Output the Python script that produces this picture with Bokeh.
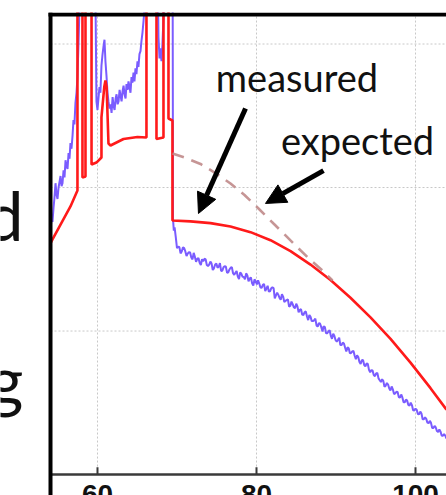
from bokeh.plotting import figure
from bokeh.models import Range1d, Label, Arrow, NormalHead
from bokeh.embed import file_html
from bokeh.resources import INLINE
from bokeh.core.properties import value

# ---------------- data ----------------
x_ticks = [60, 80, 100]
x_tick_labels = ["60", "80", "100"]
y_grid = [1, 2, 3]
side_letters = ["d", "g"]          # ends of the slide text cut off at the left
side_letter_y = [1.812, 0.672]

# red: measured (pulses run off the top of the chart)
red_x = [54.09, 54.34, 55.35, 56.60, 57.48, 57.48, 58.11, 58.11, 58.49, 58.49,
         59.25, 59.25, 59.87, 60.50, 60.50, 60.85, 61.00, 61.15, 61.38, 61.64,
         63.27, 65.03, 66.16, 66.16, 67.42, 67.42, 68.30, 68.30, 68.93, 68.93,
         69.43, 69.43, 71.70, 74.21, 76.73, 79.25, 81.76, 84.28, 86.79, 89.31,
         91.82, 94.34, 96.86, 99.37, 101.89, 103.90]
red_y = [1.610, 1.638, 1.742, 1.868, 1.979, 3.600, 3.600, 2.070, 2.077, 3.600,
         3.600, 2.160, 2.174, 2.209, 2.488, 2.700, 2.746, 2.700, 2.307, 2.293,
         2.338, 2.352, 2.348, 3.600, 3.600, 2.338, 2.348, 3.600, 3.600, 2.481,
         2.467, 1.770, 1.764, 1.752, 1.728, 1.689, 1.633, 1.557, 1.463, 1.355,
         1.232, 1.095, 0.945, 0.780, 0.602, 0.452]

# dashed: expected
exp_x = [69.43, 70.94, 72.96, 74.84, 76.73, 78.49, 80.25, 82.14, 83.65, 85.16,
         86.79, 88.30, 89.56]
exp_y = [2.237, 2.209, 2.164, 2.101, 2.028, 1.948, 1.854, 1.749, 1.666, 1.582,
         1.495, 1.422, 1.352]

# purple: measured signal (noisy)
pur_x = [54.12, 54.25, 54.34, 54.47, 54.59, 54.72, 54.85, 54.97, 55.10, 55.23,
         55.35, 55.48, 55.60, 55.73, 55.85, 55.98, 56.10, 56.23, 56.36, 56.48,
         56.60, 56.73, 56.86, 56.98, 57.10, 57.23, 57.36, 57.48, 57.61, 57.73,
         57.86, 59.70,
         59.87, 60.00, 60.12, 60.25, 60.37, 60.50, 60.62, 60.75, 60.88, 61.00,
         61.13, 61.26, 61.38, 61.51, 61.64, 61.77, 61.90, 62.02, 62.15, 62.28,
         62.40, 62.53, 62.65, 62.78, 62.90, 63.03, 63.15, 63.28, 63.40, 63.53,
         63.65, 63.78, 63.90, 64.03, 64.15, 64.28, 64.40, 64.53, 64.65, 64.78,
         64.90, 65.03, 65.15, 65.28, 65.41, 65.53, 65.66, 65.79, 65.91, 66.04,
         67.55, 67.67, 67.80, 67.92, 68.05, 68.17, 68.30, 68.42,
         69.45, 69.50, 69.60,
         69.70, 69.85, 70.00, 70.15, 70.30, 70.45, 70.60, 70.75, 70.90, 71.05,
         71.20, 71.35, 71.50, 71.65, 71.80, 71.95, 72.10, 72.25, 72.40, 72.55,
         72.70, 72.85, 73.00, 73.15, 73.30, 73.45, 73.60, 73.75, 73.90, 74.05,
         74.20, 74.35, 74.50, 74.65, 74.80, 74.95, 75.10, 75.25, 75.40, 75.55,
         75.70, 75.85, 76.00, 76.15, 76.30, 76.45, 76.60, 76.75, 76.90, 77.05,
         77.20, 77.35, 77.50, 77.65, 77.80, 77.95, 78.10, 78.25, 78.40, 78.55,
         78.70, 78.85, 79.00, 79.15, 79.30, 79.45, 79.60, 79.75, 79.90, 80.05,
         80.20, 80.35, 80.50, 80.65, 80.80, 80.95, 81.10, 81.25, 81.40, 81.55,
         81.70, 81.85, 82.00, 82.15, 82.30, 82.45, 82.60, 82.75, 82.90, 83.05,
         83.20, 83.35, 83.50, 83.65, 83.80, 83.95, 84.10, 84.25, 84.40, 84.55,
         84.70, 84.85, 85.00, 85.15, 85.30, 85.45, 85.60, 85.75, 85.90, 86.05,
         86.20, 86.35, 86.50, 86.65, 86.80, 86.95, 87.10, 87.25, 87.40, 87.55,
         87.70, 87.85, 88.00, 88.15, 88.30, 88.45, 88.60, 88.75, 88.90, 89.05,
         89.20, 89.35, 89.50, 89.65, 89.80, 89.95, 90.10, 90.25, 90.40, 90.55,
         90.70, 90.85, 91.00, 91.15, 91.30, 91.45, 91.60, 91.75, 91.90, 92.05,
         92.20, 92.35, 92.50, 92.65, 92.80, 92.95, 93.10, 93.25, 93.40, 93.55,
         93.70, 93.85, 94.00, 94.15, 94.30, 94.45, 94.60, 94.75, 94.90, 95.05,
         95.20, 95.35, 95.50, 95.65, 95.80, 95.95, 96.10, 96.25, 96.40, 96.55,
         96.70, 96.85, 97.00, 97.15, 97.30, 97.45, 97.60, 97.75, 97.90, 98.05,
         98.20, 98.35, 98.50, 98.65, 98.80, 98.95, 99.10, 99.25, 99.40, 99.55,
         99.70, 99.85, 100.00, 100.15, 100.30, 100.45, 100.60, 100.75, 100.90, 101.05,
         101.20, 101.35, 101.50, 101.65, 101.80, 101.95, 102.10, 102.25, 102.40, 102.55,
         102.70, 102.85, 103.00, 103.15, 103.30, 103.45, 103.60, 103.75, 103.90]
pur_y = [1.72, 1.80, 1.76, 1.86, 1.93, 2.03, 1.95, 1.92, 2.00, 2.04,
         2.08, 2.01, 2.03, 2.12, 2.07, 2.19, 2.15, 2.13, 2.24, 2.20,
         2.31, 2.27, 2.36, 2.47, 2.44, 2.59, 2.66, 2.77, 3.00, 3.24,
         3.60, 3.60,
         2.60, 2.54, 2.62, 2.70, 2.66, 2.85, 2.92, 2.98, 3.03, 2.88,
         2.78, 2.66, 2.60, 2.55, 2.58, 2.52, 2.63, 2.57, 2.54, 2.62,
         2.65, 2.58, 2.60, 2.68, 2.64, 2.60, 2.67, 2.71, 2.65, 2.62,
         2.72, 2.68, 2.74, 2.70, 2.66, 2.77, 2.73, 2.80, 2.74, 2.83,
         2.79, 2.88, 2.84, 2.93, 2.95, 3.02, 3.08, 3.16, 3.24, 3.60,
         3.60, 3.05, 2.90, 2.97, 2.88, 3.00, 3.18, 3.60,
         3.60, 1.78, 1.70,
         1.722, 1.652, 1.577, 1.587, 1.585, 1.541, 1.554, 1.584, 1.578, 1.555,
         1.523, 1.540, 1.550, 1.547, 1.512, 1.499, 1.545, 1.518, 1.482, 1.503,
         1.509, 1.475, 1.459, 1.500, 1.486, 1.503, 1.501, 1.460, 1.453, 1.463,
         1.484, 1.470, 1.425, 1.437, 1.464, 1.470, 1.442, 1.448, 1.473, 1.419,
         1.420, 1.444, 1.452, 1.448, 1.405, 1.409, 1.429, 1.441, 1.445, 1.403,
         1.392, 1.406, 1.418, 1.379, 1.362, 1.409, 1.398, 1.378, 1.377, 1.361,
         1.402, 1.387, 1.347, 1.366, 1.373, 1.332, 1.317, 1.360, 1.347, 1.324,
         1.353, 1.331, 1.303, 1.301, 1.322, 1.328, 1.278, 1.296, 1.315, 1.276,
         1.277, 1.298, 1.304, 1.299, 1.228, 1.249, 1.267, 1.252, 1.231, 1.218,
         1.257, 1.240, 1.202, 1.210, 1.216, 1.221, 1.171, 1.175, 1.205, 1.187,
         1.165, 1.158, 1.190, 1.172, 1.130, 1.148, 1.152, 1.114, 1.111, 1.131,
         1.137, 1.101, 1.076, 1.112, 1.099, 1.069, 1.070, 1.074, 1.087, 1.039,
         1.031, 1.056, 1.051, 1.027, 0.996, 1.033, 1.028, 0.984, 0.985, 0.997,
         1.006, 0.967, 0.946, 0.982, 0.965, 0.936, 0.926, 0.939, 0.953, 0.902,
         0.902, 0.919, 0.913, 0.884, 0.857, 0.886, 0.880, 0.845, 0.847, 0.858,
         0.861, 0.828, 0.804, 0.831, 0.819, 0.784, 0.771, 0.796, 0.798, 0.763,
         0.754, 0.775, 0.771, 0.729, 0.712, 0.728, 0.725, 0.693, 0.685, 0.705,
         0.708, 0.670, 0.657, 0.645, 0.664, 0.653, 0.611, 0.619, 0.638, 0.627,
         0.600, 0.585, 0.614, 0.594, 0.561, 0.566, 0.577, 0.575, 0.540, 0.535,
         0.558, 0.537, 0.503, 0.504, 0.522, 0.515, 0.485, 0.480, 0.501, 0.484,
         0.448, 0.447, 0.459, 0.452, 0.422, 0.419, 0.439, 0.425, 0.385, 0.385,
         0.399, 0.388, 0.362, 0.358, 0.374, 0.360, 0.324, 0.325, 0.339, 0.328,
         0.303, 0.296, 0.315, 0.299, 0.270, 0.271, 0.282, 0.271, 0.250]

assert len(red_x) == len(red_y)
assert len(exp_x) == len(exp_y)
assert len(pur_x) == len(pur_y)

# ---------------- figure ----------------
X0, X1 = 47.80, 103.90        # frame covers the full width (slide text sits left of the plot box)
Y0, Y1 = -0.146, 3.2195
BOX_LEFT = 54.09              # left edge of the plot box
BOX_TOP = 3.206               # top edge of the plot box

p = figure(width=446, height=495, x_range=Range1d(X0, X1), y_range=Range1d(Y0, Y1),
           output_backend="svg", toolbar_location=None,
           x_axis_type=None, y_axis_type=None,
           min_border_left=0, min_border_right=0, min_border_top=12, min_border_bottom=0,
           background_fill_color="white", border_fill_color="white")
p.outline_line_color = None
p.xgrid.visible = False
p.ygrid.visible = False

n = len(x_ticks)
m = len(y_grid)
GRID = dict(line_color="#c8c8c8", line_dash="2 2", line_width=1)

# grid inside the box
p.segment(x0=[BOX_LEFT] * m, y0=y_grid, x1=[X1] * m, y1=y_grid, **GRID)
p.segment(x0=x_ticks, y0=[0] * n, x1=x_ticks, y1=[BOX_TOP] * n, **GRID)

# data lines
p.line(pur_x, pur_y, line_color="#7a5cff", line_width=2.0)
p.line(red_x, red_y, line_color="#ff1a1a", line_width=2.6)
p.line(exp_x, exp_y, line_color="#c08a8a", line_width=2.6, line_dash="12 8", line_alpha=0.9)

# bottom axis line, ticks and labels
p.segment(x0=[BOX_LEFT], y0=[0], x1=[X1], y1=[0], line_color="#3a3a3a", line_width=2.5)
p.segment(x0=x_ticks, y0=[0] * n, x1=x_ticks, y1=[0.05] * n, line_color="#3a3a3a", line_width=2)
p.text(x=x_ticks, y=[-0.076] * n, text=x_tick_labels,
       text_font=value("Liberation Sans"), text_font_style="bold", text_font_size="28px",
       text_align="center", text_baseline="top", text_color="#111111")

# plot box (left and top borders)
p.segment(x0=[BOX_LEFT], y0=[Y0], x1=[BOX_LEFT], y1=[Y1], line_color="black", line_width=4)
p.segment(x0=[BOX_LEFT - 0.25], y0=[BOX_TOP], x1=[X1], y1=[BOX_TOP], line_color="black", line_width=4)

# arrows
p.add_layout(Arrow(end=NormalHead(size=20, fill_color="black", line_color="black"),
                   x_start=78.62, y_start=2.551, x_end=72.70, y_end=1.819,
                   line_width=5, line_color="black"))
p.add_layout(Arrow(end=NormalHead(size=20, fill_color="black", line_color="black"),
                   x_start=88.43, y_start=2.118, x_end=81.13, y_end=1.889,
                   line_width=5, line_color="black"))

# annotations
p.add_layout(Label(x=85.09, y=2.770, text="measured", text_font="Lato", text_font_size="38px",
                   text_align="center", text_baseline="alphabetic", text_color="#111111"))
p.add_layout(Label(x=92.71, y=2.332, text="expected", text_font="Lato", text_font_size="38px",
                   text_align="center", text_baseline="alphabetic", text_color="#111111"))

# cropped slide text at the left
p.text(x=[50.69] * len(side_letters), y=side_letter_y, text=side_letters,
       text_font=value("Lato"), text_font_size="68px",
       text_align="right", text_baseline="alphabetic", text_color="#111111")

open("out.html", "w").write(file_html(p, INLINE))
